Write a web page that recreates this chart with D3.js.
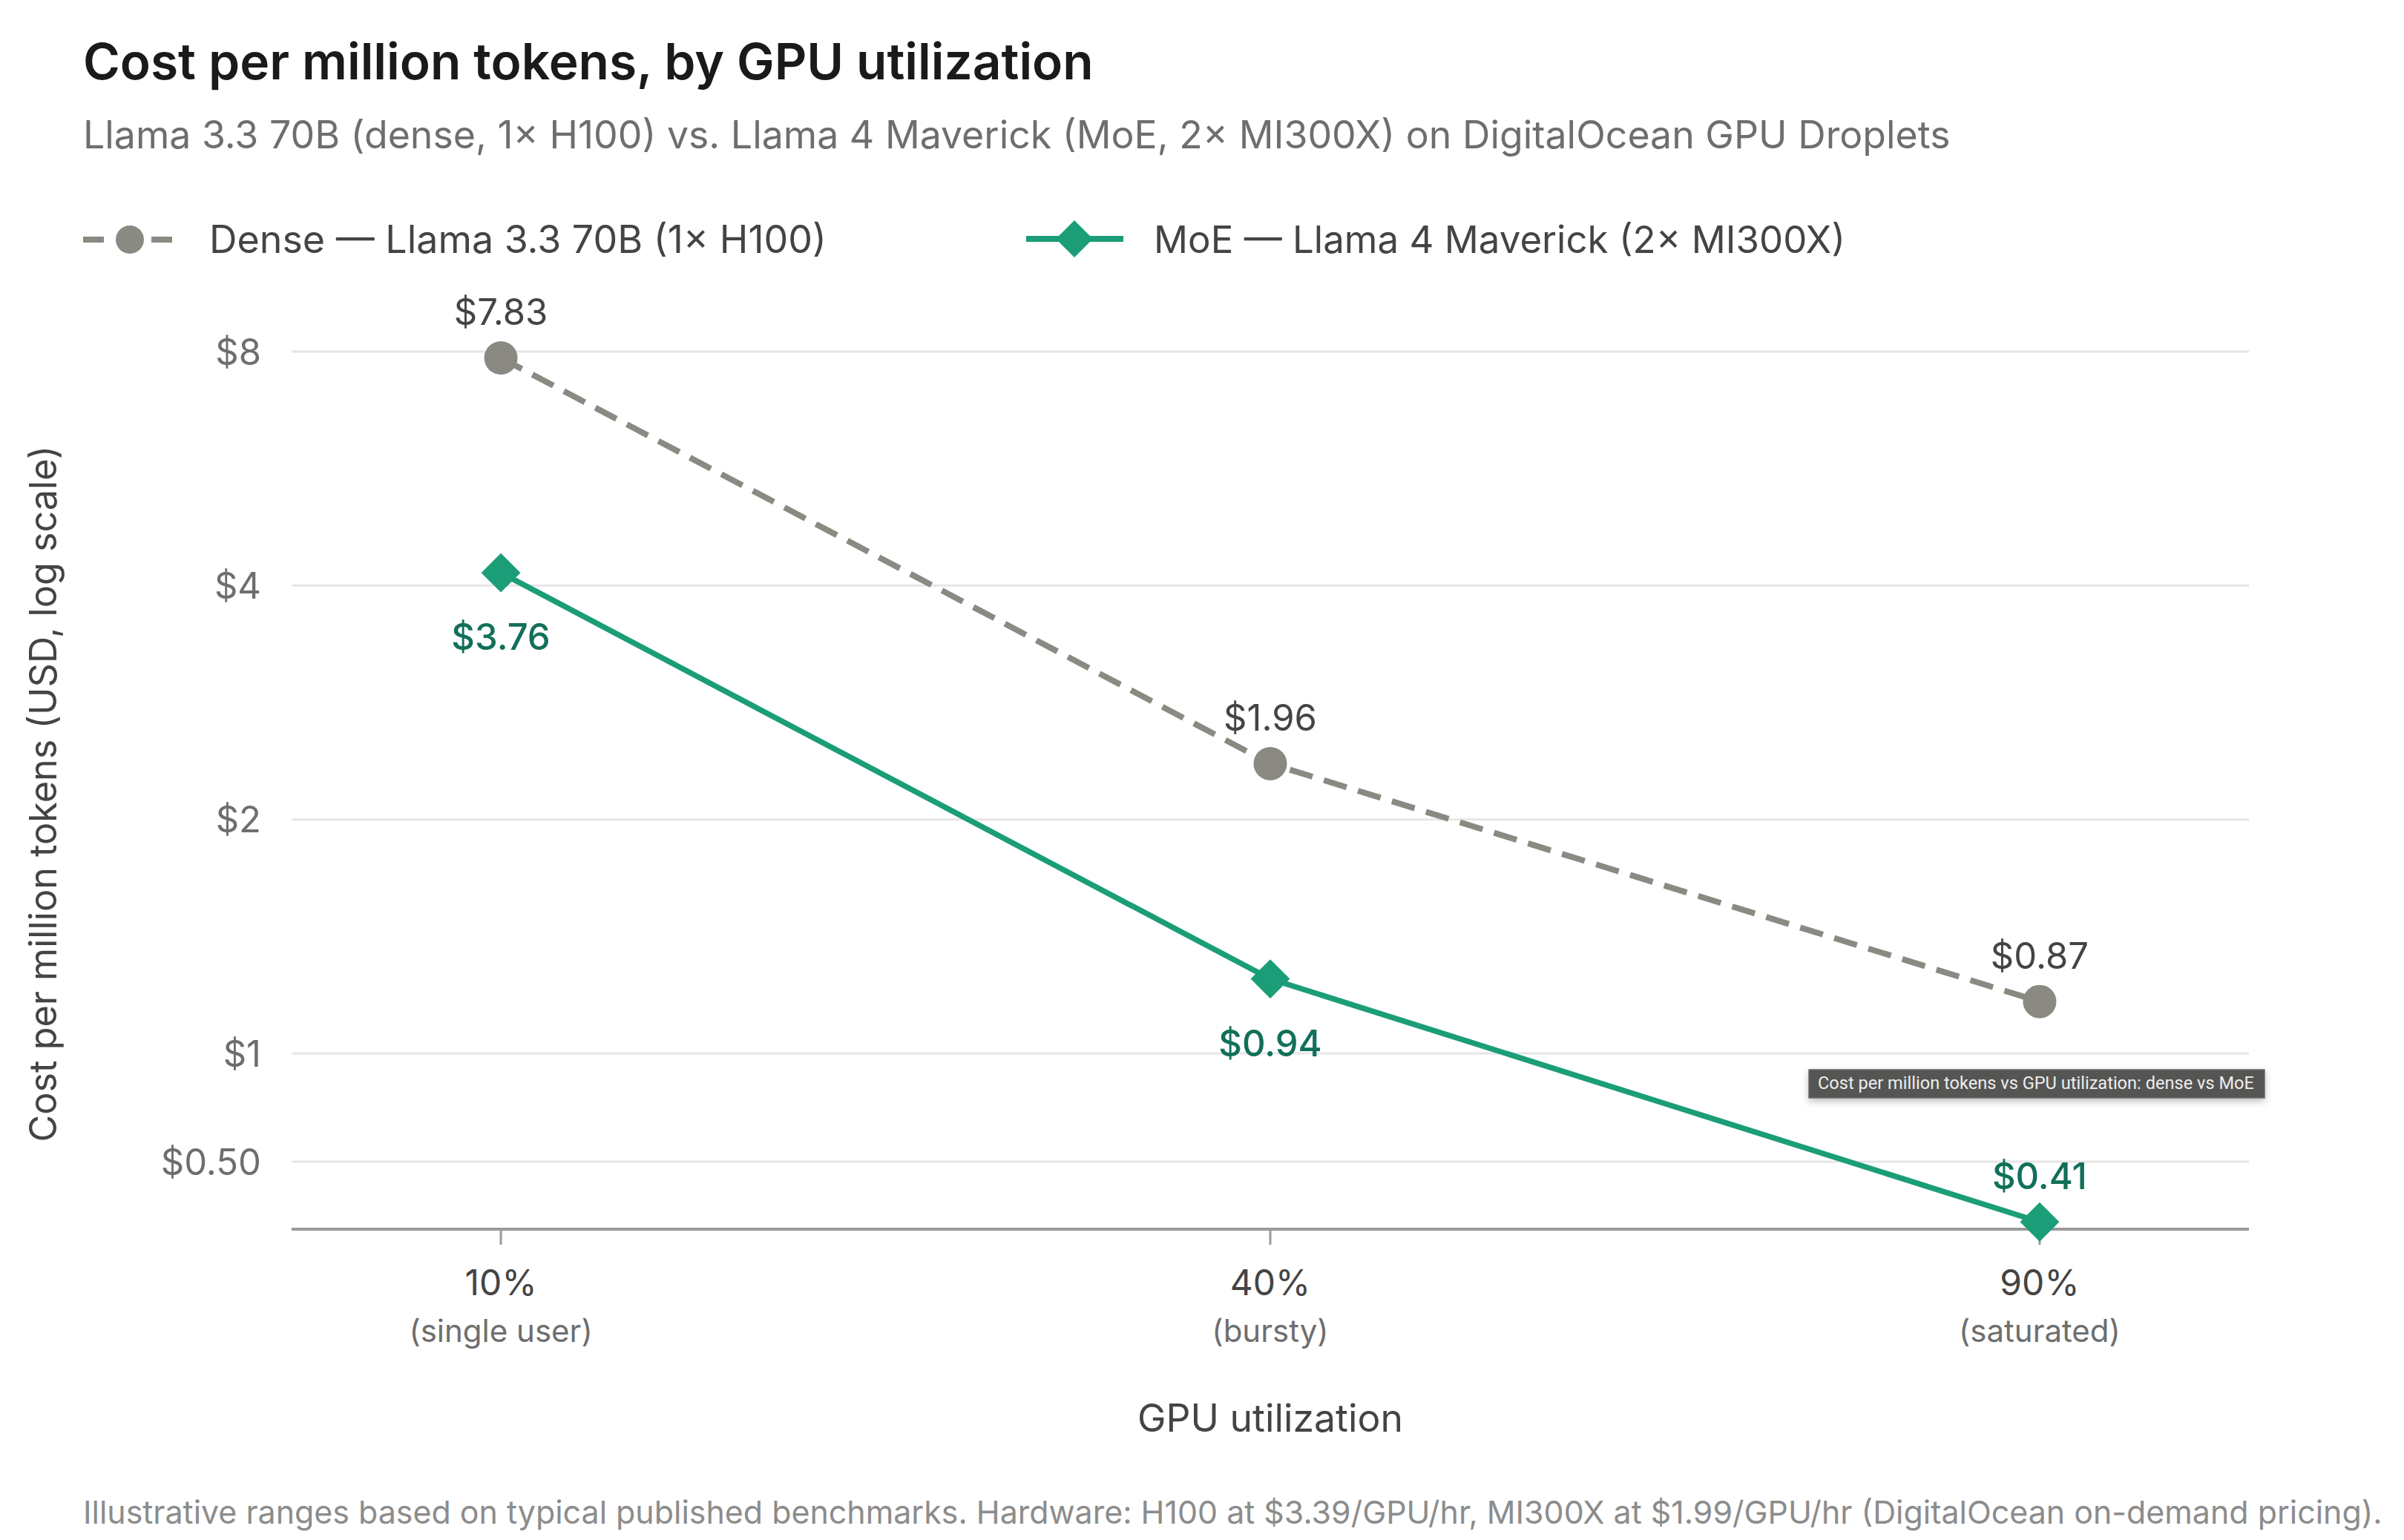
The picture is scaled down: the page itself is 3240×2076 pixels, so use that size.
<!DOCTYPE html>
<html><head><meta charset="utf-8">
<script src="https://cdn.jsdelivr.net/npm/d3@7"></script>
<style>body{margin:0;background:#fff} svg{display:block}</style>
</head><body>
<script>
// ---- data ----
const categories = ["10%", "40%", "90%"];
const categoryNotes = ["(single user)", "(bursty)", "(saturated)"];
const denseCost = [7.83, 1.96, 0.87];
const moeCost = [3.76, 0.94, 0.41];
const yTickValues = [8, 4, 2, 1, 0.5];
const yTickLabels = ["$8", "$4", "$2", "$1", "$0.50"];
const seriesNames = ["Dense — Llama 3.3 70B (1× H100)", "MoE — Llama 4 Maverick (2× MI300X)"];
const titleText = "Cost per million tokens, by GPU utilization";
const subtitleText = "Llama 3.3 70B (dense, 1× H100) vs. Llama 4 Maverick (MoE, 2× MI300X) on DigitalOcean GPU Droplets";
const xTitle = "GPU utilization";
const yTitle = "Cost per million tokens (USD, log scale)";
const footText = "Illustrative ranges based on typical published benchmarks. Hardware: H100 at $3.39/GPU/hr, MI300X at $1.99/GPU/hr (DigitalOcean on-demand pricing).";
const tipText = "Cost per million tokens vs GPU utilization: dense vs MoE";

// ---- layout ----
const W = 3240, H = 2076;
const L = 393, R = 3031, T = 474, B = 1657;
const FONT = "Inter, 'Noto Sans', sans-serif";
const GRAY = "#8a8a82", GREEN = "#1b9e77", GREEN_DARK = "#11705a";

const svg = d3.select("body").append("svg").attr("width", W).attr("height", H)
  .attr("font-family", FONT);

function fit(t, target) {
  const w = t.node().getComputedTextLength();
  const fs = parseFloat(t.attr("font-size"));
  if (w > 0) t.attr("font-size", (fs * target / w).toFixed(2));
  return t;
}

// scales
const x = d3.scalePoint().domain(categories).range([L, R]).padding(0.272);
const yGrid = d3.scaleLog().domain([0.5, 1, 8]).range([1566, 1420, T]);
const y = d3.scaleLog().domain([0.4, 8]).range([B, T]);

// title / subtitle
fit(svg.append("text").attr("x", 112).attr("y", 107).attr("font-size", 62)
  .attr("font-weight", 600).attr("fill", "#1a1a1a").text(titleText), 1362);
fit(svg.append("text").attr("x", 112).attr("y", 200).attr("font-size", 50)
  .attr("fill", "#6e6e6e").text(subtitleText), 2517);

// legend
const lg = svg.append("g");
lg.append("line").attr("x1", 112).attr("x2", 236).attr("y1", 323).attr("y2", 323)
  .attr("stroke", GRAY).attr("stroke-width", 8).attr("stroke-dasharray", "28,18");
lg.append("circle").attr("cx", 175).attr("cy", 323).attr("r", 19).attr("fill", GRAY);
fit(lg.append("text").attr("x", 282).attr("y", 341).attr("font-size", 50)
  .attr("fill", "#444").text(seriesNames[0]), 832);
lg.append("line").attr("x1", 1383).attr("x2", 1514).attr("y1", 322).attr("y2", 322)
  .attr("stroke", GREEN).attr("stroke-width", 8);
lg.append("path").attr("d", d3.symbol(d3.symbolSquare, 1250)())
  .attr("transform", "translate(1448,322) rotate(45)").attr("fill", GREEN);
fit(lg.append("text").attr("x", 1555).attr("y", 341).attr("font-size", 50)
  .attr("fill", "#444").text(seriesNames[1]), 932);

// grid + y tick labels
const gy = svg.append("g");
yTickValues.forEach((v, i) => {
  gy.append("line").attr("x1", L).attr("x2", R).attr("y1", yGrid(v)).attr("y2", yGrid(v))
    .attr("stroke", "#e6e6e6").attr("stroke-width", 3);
  gy.append("text").attr("x", 352).attr("y", yGrid(v)).attr("dy", "0.36em")
    .attr("text-anchor", "end").attr("font-size", 49).attr("fill", "#6e6e6e").text(yTickLabels[i]);
});

// x axis
const gx = svg.append("g");
gx.append("line").attr("x1", L).attr("x2", R).attr("y1", B).attr("y2", B)
  .attr("stroke", "#9a9a9a").attr("stroke-width", 4);
categories.forEach((c, i) => {
  gx.append("line").attr("x1", x(c)).attr("x2", x(c)).attr("y1", B).attr("y2", B + 21)
    .attr("stroke", "#9a9a9a").attr("stroke-width", 3);
  gx.append("text").attr("x", x(c)).attr("y", 1746).attr("text-anchor", "middle")
    .attr("font-size", 48).attr("fill", "#444").text(c);
  gx.append("text").attr("x", x(c)).attr("y", 1809).attr("text-anchor", "middle")
    .attr("font-size", 42).attr("fill", "#6e6e6e").text(categoryNotes[i]);
});

// axis titles
fit(svg.append("text").attr("x", 1712).attr("y", 1930).attr("text-anchor", "middle")
  .attr("font-size", 50).attr("fill", "#444").text(xTitle), 358);
fit(svg.append("text").attr("transform", "translate(76,1070) rotate(-90)")
  .attr("text-anchor", "middle").attr("font-size", 48).attr("fill", "#444").text(yTitle), 939);

// lines
const dense = categories.map((c, i) => ({ c, v: denseCost[i] }));
const moe = categories.map((c, i) => ({ c, v: moeCost[i] }));
const line = d3.line().x(d => x(d.c)).y(d => y(d.v));
svg.append("path").datum(dense).attr("d", line).attr("fill", "none")
  .attr("stroke", GRAY).attr("stroke-width", 8).attr("stroke-dasharray", "32,16");
svg.append("path").datum(moe).attr("d", line).attr("fill", "none")
  .attr("stroke", GREEN).attr("stroke-width", 7.5);

// markers
svg.selectAll(".dpt").data(dense).join("circle").attr("cx", d => x(d.c)).attr("cy", d => y(d.v))
  .attr("r", 22.5).attr("fill", GRAY);
svg.selectAll(".mpt").data(moe).join("path").attr("d", d3.symbol(d3.symbolSquare, 1400)())
  .attr("transform", d => `translate(${x(d.c)},${y(d.v)}) rotate(45)`).attr("fill", GREEN);

// value labels
const fmt = v => "$" + v.toFixed(2);
svg.selectAll(".dl").data(dense).join("text").attr("x", d => x(d.c)).attr("y", d => y(d.v) - 44)
  .attr("text-anchor", "middle").attr("font-size", 49).attr("fill", "#444").text(d => fmt(d.v));
svg.selectAll(".ml").data(moe).join("text").attr("x", d => x(d.c))
  .attr("y", d => (y(d.v) + 104 > B ? y(d.v) - 44 : y(d.v) + 104))
  .attr("text-anchor", "middle").attr("font-size", 49).attr("font-weight", 500)
  .attr("fill", GREEN_DARK).text(d => fmt(d.v));

// footnote
fit(svg.append("text").attr("x", 112).attr("y", 2054).attr("font-size", 40)
  .attr("fill", "#8c8c8c").text(footText), 3100);

// hover tooltip as captured
const defs = svg.append("defs");
const f = defs.append("filter").attr("id", "sh").attr("x", "-10%").attr("y", "-50%").attr("width", "120%").attr("height", "200%");
f.append("feDropShadow").attr("dx", 0).attr("dy", 4).attr("stdDeviation", 5).attr("flood-color", "#000").attr("flood-opacity", 0.25);
const tip = svg.append("g");
tip.append("rect").attr("x", 2438).attr("y", 1442).attr("width", 614).attr("height", 38)
  .attr("fill", "#555553").attr("stroke", "#6a6a6a").attr("stroke-width", 1.5).attr("filter", "url(#sh)");
fit(tip.append("text").attr("x", 2450).attr("y", 1468).attr("font-size", 22)
  .attr("font-family", "Roboto, 'Liberation Sans', sans-serif")
  .attr("fill", "#eeeeee").text(tipText), 588);
</script>
</body></html>
